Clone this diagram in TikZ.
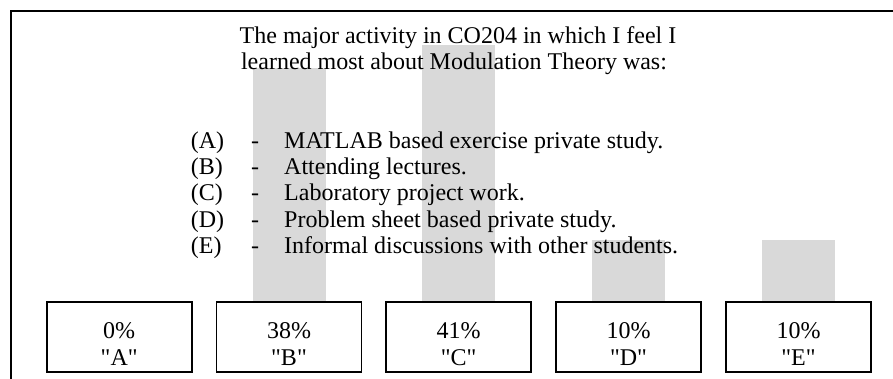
\documentclass[tikz,border=0pt]{standalone}
\usepackage{fontspec}
\setmainfont{Liberation Serif}[Ligatures=TeXOff]
\definecolor{bargray}{RGB}{217,217,217}
\begin{document}
\begin{tikzpicture}[x=1pt,y=-1pt,
  every node/.style={font=\fontsize{24}{27}\selectfont, inner sep=0pt},
  valbox/.style={draw, line width=1.8pt, minimum width=145pt, minimum height=70pt, inner sep=0pt},
  barbox/.style={fill=bargray, draw=none, minimum width=73pt, anchor=south, inner sep=0pt},
  txt/.style={anchor=base, inner sep=0pt},
  txtw/.style={anchor=base west, inner sep=0pt},
  frameline/.style={line width=2pt}
]
\useasboundingbox (0,0) rectangle (893,379);
% frame (top and left edges visible)
\coordinate (fTL) at (11,11);
\coordinate (fTR) at (893,11);
\coordinate (fBL) at (11,379);
\draw[frameline] (fBL) -- (fTL) -- (fTR);
% bars
\node[barbox, minimum height=234pt] (barB) at (289,302) {};
\node[barbox, minimum height=257pt] (barC) at (458.7,302) {};
\node[barbox, minimum height=62pt] (barD) at (628.5,302) {};
\node[barbox, minimum height=62pt] (barE) at (798.5,302) {};
% title
\node[txt] (t1) at (458,44) {The major activity in CO204 in which I feel I};
\node[txt] (t2) at (454,70) {learned most about Modulation Theory was:};
% list
\foreach \L/\yy/\T in {A/149/{MATLAB based exercise private study.},
                       B/175/{Attending lectures.},
                       C/201/{Laboratory project work.},
                       D/227/{Problem sheet based private study.},
                       E/253/{Informal discussions with other students.}} {
  \node[txtw] (k\L) at (190.7,\yy) {(\L)};
  \node[txt] (d\L) at (255,\yy) {-};
  \node[txtw] (o\L) at (284,\yy) {\T};
}
% value boxes
\foreach \L/\xx/\P in {A/119.2/0, B/289/38, C/458.7/41, D/628.5/10, E/798.5/10} {
  \node[valbox] (box\L) at (\xx,337) {};
  \node[txt] (p\L) at (\xx,338) {\P\%};
  \node[txt] (q\L) at (\xx,365) {"\L"};
}
\end{tikzpicture}
\end{document}
